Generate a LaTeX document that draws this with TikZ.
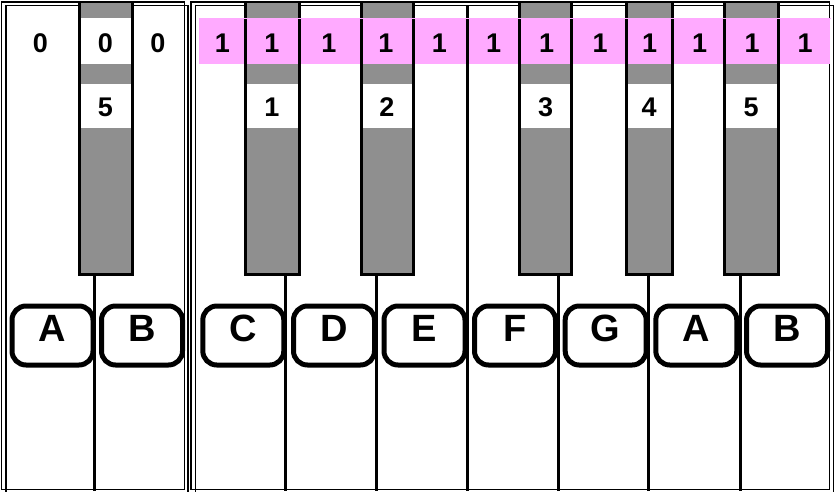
\documentclass[tikz,border=0pt]{standalone}
\usepackage{fontspec}
\setmainfont{Liberation Sans}
\usepackage{tikz}
\usetikzlibrary{positioning}
\definecolor{keygray}{HTML}{8F8F8F}
\definecolor{bandpink}{HTML}{FFAAFF}
\tikzset{
  x=1pt, y=-1pt,
  frame/.style={draw=black, line width=1.5pt},
  divider/.style={draw=black, line width=3pt},
  keyedge/.style={draw=black, line width=3pt},
  window/.style={fill=#1, draw=none},
  window/.default=white,
  notebox/.style={
    draw=black, fill=white, line width=5pt, rounded corners=14pt,
    minimum width=81pt, minimum height=59pt, inner sep=0pt,
    font=\fontsize{38}{38}\selectfont\bfseries, text depth=15pt
  },
  digit/.style={font=\fontsize{27}{27}\selectfont\bfseries, inner sep=0pt}
}

\begin{document}
\begin{tikzpicture}
  \useasboundingbox[fill=white] (0,0) rectangle (837,491);
  % double frames
  \draw[frame] (1.5,2) rectangle (184.3,489.5);
  \draw[frame] (6,5.5) rectangle (188,495);
  \draw[frame] (191,2) rectangle (829.7,489.5);
  \draw[frame] (195.5,5.5) rectangle (833.3,495);
  % pink row
  \fill[bandpink] (198.5,18.3) rectangle (829.5,64.3);
  % white keys
  \foreach \x in {94.5, 285, 376, 467.5, 558, 648.5, 740}
    \draw[divider] (\x,5.5) -- (\x,491);
  % black keys
  \foreach \a/\b/\c in {79.3/132.7/white, 245.3/299/bandpink, 361/413.3/bandpink,
                        519/571.7/bandpink, 626/672/bandpink, 724/778/bandpink} {
    \fill[keygray] (\a,2.6) rectangle (\b,274);
    \fill[window=\c] (\a,18.3) rectangle (\b,64.3);
    \fill[window] (\a,83.7) rectangle (\b,127.7);
    \draw[keyedge] (\a,2.6) |- (\b,274) -- (\b,2.6);
  }
  \draw[bandpink, line width=0.6pt] (198.5,18.3) -- (830.5,18.3);
  % note names
  \foreach \x/\n [count=\i] in {52.5/A, 142/B, 243.3/C, 334/D, 424.5/E,
                                515/F, 605.7/G, 696.3/A, 787/B}
    \node[notebox] (note\i) at (\x,335.5) {\n};
  % counts
  \foreach \x/\v [count=\i] in {40.5/0, 105.5/0, 158/0}
    \node[digit] (low\i) at (\x,43.3) {\v};
  \foreach \x [count=\i] in {222.5, 272, 329, 386, 439.5, 493.5,
                             546.5, 600, 649.5, 699.5, 752, 805}
    \node[digit] (high\i) at (\x,43.3) {1};
  \foreach \x/\v [count=\i] in {105.5/5, 272/1, 387/2, 545.5/3, 649/4, 751/5}
    \node[digit] (sharp\i) at (\x,107.5) {\v};
\end{tikzpicture}
\end{document}
